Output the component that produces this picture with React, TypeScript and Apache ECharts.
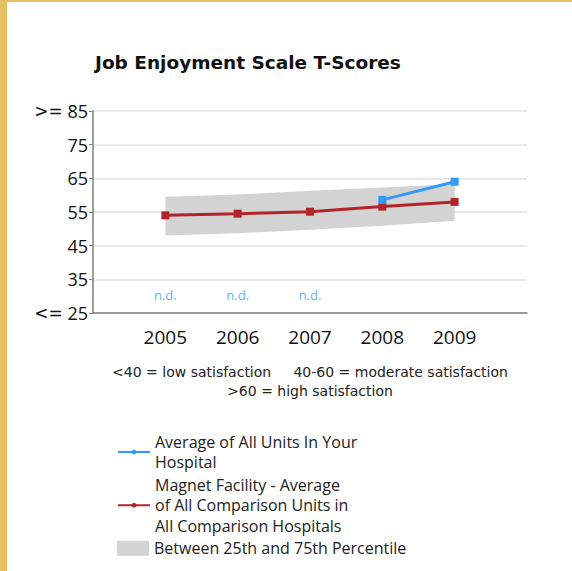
import React, { useEffect, useRef } from "react";
import * as echarts from "echarts";

const years = ["", "2005", "2006", "2007", "2008", "2009", ""];
const hospitalAvg = ["-", "-", "-", "-", 58.6, 64.0, "-"];
const magnetAvg = ["-", 54.0, 54.5, 55.1, 56.6, 58.0, "-"];
const pct25 = ["-", 48.0, 48.7, 49.7, 50.9, 52.4, "-"];
const pct75 = ["-", 59.5, 60.2, 61.3, 62.3, 63.3, "-"];
const noDataYears = ["2005", "2006", "2007"];
const noDataLevel = 30.2;
const yTicks = [25, 35, 45, 55, 65, 75, 85];

const nameHospital = "Average of All Units In Your\nHospital";
const nameMagnet = "Magnet Facility - Average\nof All Comparison Units in\nAll Comparison Hospitals";
const nameBand = "Between 25th and 75th Percentile";
const noteLine1 = "<40 = low satisfaction     40-60 = moderate satisfaction";
const noteLine2 = ">60 = high satisfaction";

const FONT = "Open Sans";
const RED = "#b3242a";
const BLUE = "#3399ff";
const GRAY = "#d3d3d3";

const asRect = (arr: (number | string)[]) =>
  arr.map((v) => (typeof v === "number" ? { value: v, symbol: "rect" } : v));

export default function App() {
  const ref = useRef<HTMLDivElement>(null);
  useEffect(() => {
    if (!ref.current) return;
    const chart = echarts.init(ref.current, null, { renderer: "svg" });
    const bandDiff = pct75.map((v, i) =>
      typeof v === "number" && typeof pct25[i] === "number" ? +(v - (pct25[i] as number)).toFixed(2) : "-"
    );
    const legendText = { fontFamily: FONT, fontSize: 16, lineHeight: 20.5, color: "#222" };
    const noteStyle = {
      fontFamily: "DejaVu Sans",
      fontWeight: "normal",
      fontSize: 14,
      lineHeight: 17,
      color: "#222",
    };
    chart.setOption({
      animation: false,
      backgroundColor: "transparent",
      title: [
        {
          text: "Job Enjoyment Scale T-Scores",
          left: 90,
          top: 48,
          textStyle: { fontFamily: "DejaVu Sans", fontWeight: "bold", fontSize: 18.5, color: "#111" },
        },
        {
          text: noteLine1,
          left: 310,
          top: 363,
          padding: 0,
          textAlign: "center",
          textStyle: noteStyle,
        },
        {
          text: noteLine2,
          left: 310,
          top: 382.5,
          padding: 0,
          textAlign: "center",
          textStyle: noteStyle,
        },
      ],
      grid: { left: 93, right: 45, top: 111, bottom: 258, containLabel: false },
      legend: [
        {
          orient: "vertical",
          left: 112,
          top: 426.5,
          itemWidth: 32,
          itemHeight: 6,
          itemGap: 2,
          textStyle: legendText,
          data: [{ name: nameHospital }, { name: nameMagnet }],
        },
        {
          orient: "vertical",
          left: 112,
          top: 533,
          itemWidth: 32,
          itemHeight: 15,
          textStyle: legendText,
          data: [{ name: nameBand, icon: "rect", itemStyle: { color: GRAY } }],
        },
      ],
      xAxis: {
        type: "category",
        data: years,
        boundaryGap: false,
        axisLine: { show: true, lineStyle: { color: "#7f7f7f", width: 1.5 } },
        axisTick: { show: false },
        axisLabel: { fontFamily: FONT, fontSize: 19, color: "#111", margin: 14, interval: 0 },
        splitLine: { show: false },
      },
      yAxis: {
        type: "value",
        min: 25,
        max: 85,
        interval: 10,
        axisLine: { show: true, lineStyle: { color: "#7f7f7f", width: 1.5 } },
        axisTick: { show: true, length: 4, lineStyle: { color: "#7f7f7f" } },
        axisLabel: {
          fontFamily: FONT,
          fontSize: 18,
          color: "#111",
          margin: 5,
          formatter: (v: number) =>
            v === yTicks[yTicks.length - 1]
              ? "{op|>=} " + v
              : v === yTicks[0]
              ? "{op|<=} " + v
              : String(v),
          rich: {
            op: { fontFamily: "DejaVu Sans", fontSize: 17, color: "#111" },
          },
        },
        splitLine: { show: true, lineStyle: { color: "#e2e2e2", width: 1.5 } },
      },
      series: [
        {
          name: "bandBase",
          type: "line",
          stack: "band",
          data: pct25,
          symbol: "none",
          lineStyle: { opacity: 0 },
          silent: true,
        },
        {
          name: nameBand,
          type: "line",
          stack: "band",
          data: bandDiff,
          symbol: "none",
          lineStyle: { opacity: 0 },
          itemStyle: { color: GRAY },
          areaStyle: { color: GRAY, opacity: 1 },
          silent: true,
        },
        {
          name: nameMagnet,
          type: "line",
          data: asRect(magnetAvg),
          symbol: "circle",
          symbolSize: 8,
          color: RED,
          lineStyle: { color: RED, width: 3 },
          itemStyle: { color: RED },
        },
        {
          name: nameHospital,
          type: "line",
          data: asRect(hospitalAvg),
          symbol: "circle",
          symbolSize: 8,
          color: BLUE,
          lineStyle: { color: BLUE, width: 3 },
          itemStyle: { color: BLUE },
        },
        {
          name: "noData",
          type: "scatter",
          data: noDataYears.map((y) => [y, noDataLevel]),
          symbolSize: 0,
          label: {
            show: true,
            position: "inside",
            formatter: "n.d.",
            fontFamily: FONT,
            fontSize: 13,
            color: BLUE,
          },
          silent: true,
        },
      ],
    });
    return () => chart.dispose();
  }, []);

  return (
    <div style={{ position: "fixed", left: 0, top: 0, width: 572, height: 571, background: "#fff" }}>
      <div ref={ref} style={{ position: "absolute", left: 0, top: 0, width: 572, height: 571 }} />
      <div style={{ position: "absolute", left: 0, top: 0, width: 7, height: 571, background: "#e6c164" }} />
      <div style={{ position: "absolute", left: 0, top: 0, width: 572, height: 2, background: "#e6c164" }} />
    </div>
  );
}
